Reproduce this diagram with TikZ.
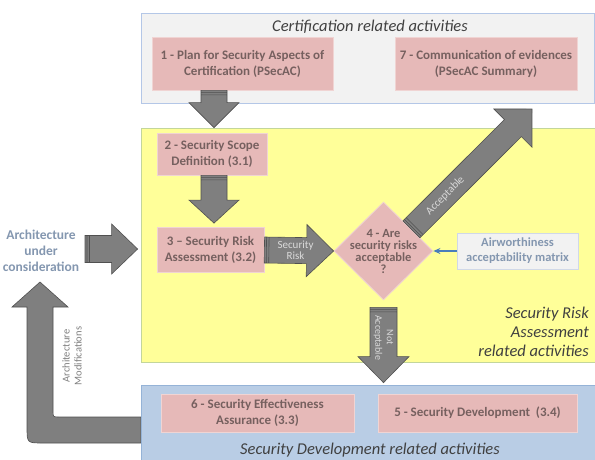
\documentclass[tikz,border=0pt]{standalone}
\usepackage{fontspec}
\setmainfont{Carlito}
\usetikzlibrary{calc,shapes.geometric,arrows.meta}
\definecolor{pinkfill}{HTML}{E6B9B8}
\definecolor{pinkedge}{HTML}{F0D4D3}
\definecolor{boxtext}{HTML}{76605F}
\definecolor{yelfill}{HTML}{FFFF99}
\definecolor{yeledge}{HTML}{C3D69B}
\definecolor{certfill}{HTML}{F2F2F2}
\definecolor{certedge}{HTML}{B4C7E7}
\definecolor{blufill}{HTML}{B9CDE5}
\definecolor{bluedge}{HTML}{95B3D7}
\definecolor{arrowgray}{HTML}{7F7F7F}
\definecolor{arrowedge}{HTML}{505050}
\definecolor{arrowtext}{HTML}{DADADA}
\definecolor{archcol}{HTML}{8497B0}
\definecolor{modcol}{HTML}{808080}
\definecolor{titlecol}{HTML}{404040}
\definecolor{matrixfill}{HTML}{F2F2F2}
\definecolor{matrixedge}{HTML}{D0D8E8}
\definecolor{smallarrow}{HTML}{4A7EBB}
\tikzset{
  ashaft/.store in=\ashaft, ahead/.store in=\ahead, alen/.store in=\alen,
  ashaft=13pt, ahead=25pt, alen=25pt,
  blockarrow/.style={draw=arrowedge, fill=arrowgray, line width=0.6pt, line join=miter,
    to path={
      ($(\tikztostart)!\ashaft!90:(\tikztotarget)$)
      -- ($($(\tikztotarget)!\alen!(\tikztostart)$)!\ashaft!90:(\tikztotarget)$)
      -- ($($(\tikztotarget)!\alen!(\tikztostart)$)!\ahead!90:(\tikztotarget)$)
      -- (\tikztotarget)
      -- ($($(\tikztotarget)!\alen!(\tikztostart)$)!\ahead!-90:(\tikztotarget)$)
      -- ($($(\tikztotarget)!\alen!(\tikztostart)$)!\ashaft!-90:(\tikztotarget)$)
      -- ($(\tikztostart)!\ashaft!-90:(\tikztotarget)$)
      -- cycle
      ($($(\tikztostart)!2pt!(\tikztotarget)$)!\ashaft!90:(\tikztotarget)$)
      -- ($($(\tikztostart)!2pt!(\tikztotarget)$)!\ashaft!-90:(\tikztotarget)$)
      ($($(\tikztostart)!4.5pt!(\tikztotarget)$)!\ashaft!90:(\tikztotarget)$)
      -- ($($(\tikztostart)!4.5pt!(\tikztotarget)$)!\ashaft!-90:(\tikztotarget)$)
    }},
  region/.style={rectangle, line width=0.8pt},
  certbox/.style={region, fill=certfill, draw=certedge},
  yelbox/.style={region, fill=yelfill, draw=yeledge},
  blubox/.style={region, fill=blufill, draw=bluedge},
  activity/.style={rectangle, fill=pinkfill, draw=pinkedge, line width=0.8pt,
    text=boxtext, font=\fontsize{13}{16}\selectfont\bfseries, align=center},
  decision/.style={diamond, fill=pinkfill, draw=pinkedge, line width=0.8pt, inner sep=0pt},
  decisiontext/.style={text=boxtext, font=\fontsize{12.5}{12.3}\selectfont\bfseries, align=center},
  titletext/.style={text=titlecol, font=\fontsize{16.5}{19}\selectfont\itshape},
  arrowlabel/.style={text=arrowtext, font=\fontsize{11}{10.5}\selectfont, align=center},
  matrixbox/.style={rectangle, fill=matrixfill, draw=matrixedge, line width=0.8pt,
    text=archcol, font=\fontsize{12.5}{15}\selectfont\bfseries, align=center},
  archlabel/.style={text=archcol, font=\fontsize{13.5}{16}\selectfont\bfseries, align=center},
  modlabel/.style={text=modcol, font=\fontsize{10.5}{12}\selectfont, align=center},
  every node/.style={inner sep=0pt}
}
\begin{document}
\begin{tikzpicture}[x=1pt,y=-1pt]
\useasboundingbox (0,0) rectangle (595,459);
\fill[white] (0,0) rectangle (595,459);
% regions
\node[certbox, minimum width=453pt, minimum height=90pt] (cert) at (367.5,58) {};
\node[yelbox, minimum width=457pt, minimum height=234pt] (yel) at (369.5,245) {};
\node[blubox, minimum width=457pt, minimum height=80pt] (blu) at (369.5,425) {};
\node[titletext] (certtitle) at (370,27) {Certification related activities};
\node[titletext] (blutitle) at (370,450) {Security Development related activities};
\node[titletext, align=right, anchor=east] (yeltitle) at (589,332) {Security Risk\\Assessment\\related activities};
% activities
\node[activity, minimum width=181pt, minimum height=53pt] (b1) at (242.5,63.5) {1 - Plan for Security Aspects of\\Certification (PSecAC)};
\node[activity, minimum width=182pt, minimum height=53pt] (b7) at (486,63.5) {7 - Communication of evidences\\(PSecAC Summary)};
\node[activity, minimum width=110pt, minimum height=42pt] (b2) at (212,154) {2 - Security Scope\\Definition (3.1)};
\node[activity, minimum width=107pt, minimum height=45pt] (b3) at (210.5,250) {3 -- Security Risk\\Assessment (3.2)};
\node[decision, minimum width=99pt, minimum height=98pt] (d4) at (383.5,251) {};
\node[decisiontext] (d4text) at ([yshift=-0.5pt]d4.center) {4 - Are\\security risks\\acceptable\\?};
\node[matrixbox, minimum width=121pt, minimum height=36pt] (airw) at (517.5,251) {Airworthiness\\acceptability matrix};
\node[activity, minimum width=193pt, minimum height=38pt] (b6) at (257.5,413) {6 - Security Effectiveness\\Assurance (3.3)};
\node[activity, minimum width=199pt, minimum height=38pt] (b5) at (477.5,413) {5 - Security Development\ \ (3.4)};
\node[archlabel] (arch) at (41,251) {Architecture\\under\\consideration};
% connectors
\draw[smallarrow, line width=1.6pt, -{Stealth[length=7pt,width=6pt]}] (airw.west) -- (d4.east);
\path (b2.north) ++(2,-5) coordinate (t12);
\coordinate (s12) at (b1.south -| t12);
\draw[blockarrow] (s12) to (t12);
\path (b2.south) ++(2,0) coordinate (s23);
\path (s23 |- b3.north) ++(0,-4) coordinate (t23);
\draw[blockarrow, alen=23pt] (s23) to (t23);
\draw[blockarrow, alen=27pt, ahead=26pt] (b3.east) to (d4.west);
\node[arrowlabel] (srlabel) at ($(b3.east)!0.45!(d4.west)$) {Security\\Risk};
\path (arch.center) ++(44,-2) coordinate (archs);
\path (yel.west |- archs) ++(-3,0) coordinate (archt);
\draw[blockarrow, ashaft=13.5pt, alen=26pt] (archs) to (archt);
\path (d4.north east) ++(3,3) coordinate (accs);
\coordinate (acct) at (532,109);
\draw[blockarrow, ashaft=12pt, ahead=27pt, alen=27pt] (accs) to (acct);
\node[arrowlabel, rotate=45] (acclabel) at ($(accs)!0.28!(acct)$) {Acceptable};
\path (d4.south) ++(0,7) coordinate (nas);
\path (nas |- blu.north) ++(0,-2) coordinate (nat);
\draw[blockarrow, ashaft=13.5pt, ahead=25.5pt, alen=26pt] (nas) to (nat);
\node[arrowlabel, rotate=-90, font=\fontsize{10}{11.5}\selectfont] (nalabel) at ($(nas)!0.4!(nat)$) {Not\\Acceptable};
% architecture modifications (bent arrow)
\path (blu.west) ++(0,5) coordinate (mods0);
\path (archs -| arch.center) ++(-1,33) coordinate (mods1);
\coordinate (mc) at (mods1 |- mods0);
\draw[draw=arrowedge, fill=arrowgray, line width=0.6pt]
  ([yshift=13pt]mods0)
  -- ([xshift=19pt,yshift=13pt]mc)
  .. controls ([xshift=13pt,yshift=13pt]mc) .. ([xshift=13pt,yshift=19pt]mc)
  -- ([xshift=13pt,yshift=-25pt]mods1)
  -- ([xshift=28pt,yshift=-25pt]mods1)
  -- (mods1)
  -- ([xshift=-28pt,yshift=-25pt]mods1)
  -- ([xshift=-13pt,yshift=-25pt]mods1)
  -- ([xshift=-13pt,yshift=3pt]mc)
  .. controls ([xshift=-13pt,yshift=-13pt]mc) .. ([xshift=3pt,yshift=-13pt]mc)
  -- ([yshift=-13pt]mods0)
  -- cycle;
\node[modlabel, rotate=90] (modlbl) at (72,356) {Architecture\\Modifications};
\end{tikzpicture}
\end{document}
